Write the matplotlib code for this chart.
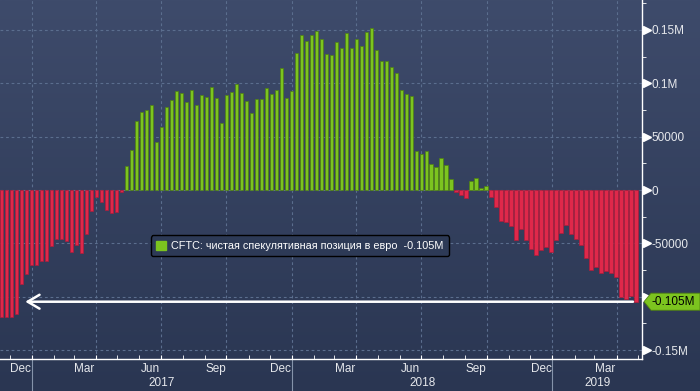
import numpy as np
import pandas as pd
import matplotlib
matplotlib.use('Agg')
import matplotlib.pyplot as plt
import matplotlib.dates as mdates
import matplotlib.transforms as mtransforms
from matplotlib.patches import Polygon, Patch
from matplotlib.colors import LinearSegmentedColormap
from matplotlib.ticker import MultipleLocator, FixedLocator, NullFormatter

plt.rcParams['font.family'] = ['Liberation Sans', 'DejaVu Sans']

# ---------------- data ----------------
first_week = '2016-11-20'
net_position = [
    -119500, -119500, -119500, -116000, -88000, -78400, -70200, -70200, -66400, -67000,
    -52500, -46200, -45900, -47500, -58500, -51600, -59500, -41100, -19900, -7000,
    -11100, -18300, -21500, -20600, -1600,
    22800, 37700, 65000, 73500, 74600, 80100, 45000, 59500, 78000, 84800,
    92400, 91000, 82700, 94200, 80100, 88600, 87500, 96900,
    86500, 63100, 88600, 91800, 99000, 90900, 83400, 71900, 85300, 85300,
    95300, 90000, 93750, 114000, 85900, 92800, 128750, 145300, 139700, 145300,
    149000, 141600, 127500, 126600, 138750, 133100, 146900, 133100, 141600, 135000,
    148100, 151600, 131250, 120900, 120900, 115300, 109400, 93750, 90000, 88100,
    36600, 33750,
    36900, 24400, 21900, 30300, 23400, 10300, -1600, -4700, -7200, 8400,
    11250, 1900, 3750, -6250, -15700, -29100, -29900, -33500, -47200, -36800,
    -46800, -55600, -61300, -56600, -53400, -58100, -47200, -40200, -33000, -41200,
    -46200, -51600, -63800, -75100, -72300, -78000, -76100, -78000, -81100, -100000,
    -102200, -99000, -104700,
]
series_label = 'CFTC: чистая спекулятивная позиция в евро  -0.105M'
last_label = '-0.105M'
y_ticks = [-150000, -100000, -50000, 0, 50000, 100000, 150000]
y_tick_labels = ['-0.15M', '', '-50000', '0', '50000', '0.1M', '0.15M']
labelled_months = pd.date_range('2016-12-01', '2019-03-01', freq='3MS')
year_starts = pd.to_datetime(['2017-01-01', '2018-01-01', '2019-01-01'])

week_dates = pd.date_range(first_week, periods=len(net_position), freq='7D')
values = np.array(net_position, dtype=float)

# ---------------- style ----------------
W, H = 700, 391
GREEN = '#7cc41f'
GREEN_EDGE = '#4f8012'
RED = '#e0284a'
RED_EDGE = '#b01c3a'
GRID = '#5b6e8e'
TXT = '#e6e8ec'
FS = 8.5
FS_LEG = 7.8

fig = plt.figure(figsize=(W / 100, H / 100), dpi=100)
fig.patch.set_facecolor('#2b3753')

bg = fig.add_axes([0, 0, 1, 1])
grad = np.linspace(0, 1, 256).reshape(-1, 1)
cmap = LinearSegmentedColormap.from_list('bg', ['#3e4b6b', '#2a3652'])
bg.imshow(grad, aspect='auto', cmap=cmap, extent=[0, 1, 0, 1], origin='upper')
bg.set_axis_off()
bg.set_zorder(0)

ax = fig.add_axes([0, 1 - 359 / H, 642 / W, 359 / H])
ax.set_zorder(1)
ax.set_facecolor('none')

x0 = week_dates[0] - pd.Timedelta(days=2.4)
x1 = x0 + pd.Timedelta(days=900)
ax.set_xlim(x0, x1)
ax.set_ylim(-158400, 178100)

colors = np.where(values >= 0, GREEN, RED)
edges = np.where(values >= 0, GREEN_EDGE, RED_EDGE)
ax.bar(week_dates, values, width=4.6, color=colors, edgecolor=edges, linewidth=0.5, zorder=2)

# grid
ax.set_axisbelow(True)
ax.xaxis.set_major_locator(mdates.MonthLocator(bymonth=[1, 4, 7, 10]))
ax.xaxis.set_minor_locator(mdates.MonthLocator())
ax.xaxis.set_major_formatter(NullFormatter())
ax.yaxis.set_major_locator(FixedLocator(y_ticks))
ax.yaxis.set_minor_locator(MultipleLocator(25000))
ax.set_yticklabels(y_tick_labels)
ax.grid(True, which='major', color=GRID, linestyle=(0, (2.5, 2.5)), linewidth=0.8)

for s in ['top', 'left']:
    ax.spines[s].set_visible(False)
for s in ['right', 'bottom']:
    ax.spines[s].set_color('white')
    ax.spines[s].set_linewidth(1.0)

ax.tick_params(axis='x', which='both', direction='in', length=3, color='white',
               labelbottom=False, bottom=True, top=False)
ax.yaxis.tick_right()
ax.tick_params(axis='y', which='major', length=0, pad=7, labelcolor=TXT, labelsize=FS)
ax.tick_params(axis='y', which='minor', length=3, direction='out', color='white', right=True, left=False)

# triangle markers for major y ticks
tri_tr = mtransforms.offset_copy(
    mtransforms.blended_transform_factory(ax.transAxes, ax.transData), fig=fig, x=4.5, units='dots')
ax.plot(np.ones(len(y_ticks)), y_ticks, transform=tri_tr, marker='>', ms=5.5,
        color='white', ls='none', clip_on=False, zorder=5)

# month labels
xtr = ax.get_xaxis_transform()
for d in labelled_months:
    ax.text(d + pd.Timedelta(days=15), -0.028, d.strftime('%b'), transform=xtr,
            ha='center', va='center', color=TXT, fontsize=FS, clip_on=False)

# year separators & labels
year_edges = list(year_starts) + [pd.Timestamp(mdates.num2date(ax.get_xlim()[1])).tz_localize(None)]
for i, ys in enumerate(year_starts):
    ax.plot([ys, ys], [0, -0.095], transform=xtr, color='#8593aa', lw=0.8, clip_on=False)
    mid = ys + (year_edges[i + 1] - ys) / 2
    ax.text(mid, -0.067, str(ys.year), transform=xtr, ha='center', va='center',
            color=TXT, fontsize=FS, clip_on=False)

# arrow line at last value
last = values[-1]
arrow_start = week_dates[0] + pd.Timedelta(days=33)
arrow_end = week_dates[-1] - pd.Timedelta(days=4)
ax.annotate('', xy=(arrow_start, last), xytext=(arrow_end, last),
            arrowprops=dict(arrowstyle='->,head_length=0.85,head_width=0.5', color='white',
                            lw=1.8, shrinkA=0, shrinkB=0), zorder=4)

# last value tag
tag_tr = mtransforms.blended_transform_factory(fig.transFigure, ax.transData)
hh = 8000
poly = Polygon([(644 / W, last), (651 / W, last + hh), (1.0, last + hh), (1.0, last - hh),
                (651 / W, last - hh)], closed=True, transform=tag_tr, facecolor=GREEN,
               edgecolor=GREEN_EDGE, lw=0.6, clip_on=False, zorder=6)
ax.add_patch(poly)
ax.text(652 / W, last, last_label, transform=tag_tr, ha='left', va='center', color='black',
        fontsize=FS, clip_on=False, zorder=7)

# legend
leg = ax.legend(handles=[Patch(facecolor=GREEN, edgecolor=GREEN)], labels=[series_label],
                loc='center', bbox_to_anchor=(0.467, 0.315), frameon=True, fancybox=True,
                facecolor='#2d3a56', edgecolor='black', framealpha=1, fontsize=FS_LEG,
                labelcolor='white', handlelength=0.9, handleheight=0.9, handletextpad=0.5,
                borderpad=0.5, borderaxespad=0)
leg.get_frame().set_linewidth(1.0)
leg.set_zorder(8)

fig.savefig('out.png', dpi=100, facecolor=fig.get_facecolor())
